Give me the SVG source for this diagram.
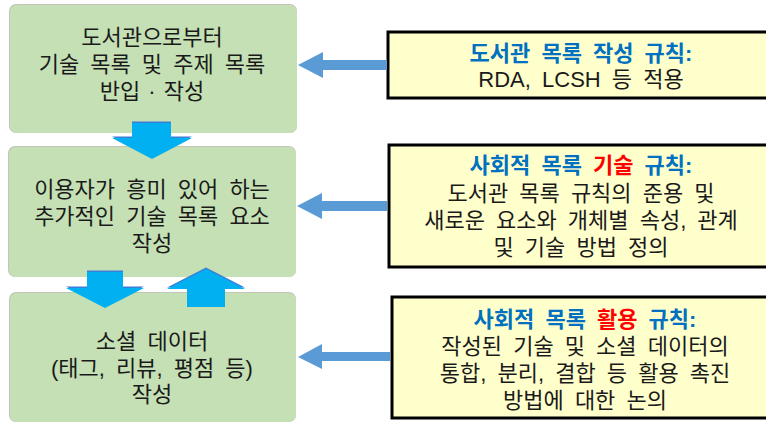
<svg xmlns="http://www.w3.org/2000/svg" width="766" height="424" viewBox="0 0 766 424">
<style>
.g{fill:#C5E0B4}
.gs{fill:#A8AE9C;opacity:.7}
.y{fill:#FFFFCC;stroke:#000;stroke-width:3}
text{font-family:"Liberation Sans","Noto Sans CJK KR",sans-serif;font-size:22px;fill:#1a1a1a;text-anchor:middle;word-spacing:5px}
.t{font-weight:bold;fill:#0070C0}
.r{fill:#FF0000}
.fa{fill:#00B0F0}
.fs{fill:#3A7FD6}
.la{fill:#5B9BD5}
</style>
<rect width="766" height="424" fill="#fff"/>
<g id="node-library">
<rect class="gs" x="9" y="4" width="288" height="129" rx="7"/>
<rect class="g" x="10" y="5" width="287" height="128" rx="7"/>
<text x="152" y="45">도서관으로부터<tspan x="152" dy="27">기술 목록 및 주제 목록</tspan><tspan x="152" dy="27" style="word-spacing:2px">반입 · 작성</tspan></text>
</g>
<g id="node-user">
<rect class="gs" x="8" y="146" width="288" height="131" rx="7"/>
<rect class="g" x="9" y="147" width="287" height="130" rx="7"/>
<text x="152" y="197">이용자가 흥미 있어 하는<tspan x="152" dy="27">추가적인 기술 목록 요소</tspan><tspan x="152" dy="27">작성</tspan></text>
</g>
<g id="node-social">
<rect class="gs" x="9" y="292" width="287" height="130" rx="7"/>
<rect class="g" x="10" y="293" width="286" height="129" rx="7"/>
<text x="152" y="349">소셜 데이터<tspan x="152" dy="27">(태그, 리뷰, 평점 등)</tspan><tspan x="152" dy="26">작성</tspan></text>
</g>
<g id="rule-library">
<rect class="y" x="388" y="32" width="386" height="66"/>
<text x="581" y="61"><tspan class="t">도서관 목록 작성 규칙:</tspan><tspan x="581" dy="26">RDA, LCSH 등 적용</tspan></text>
</g>
<g id="rule-description">
<rect class="y" x="389" y="145" width="386" height="122"/>
<text x="581" y="173"><tspan class="t">사회적 목록 <tspan class="r">기술</tspan> 규칙:</tspan><tspan x="581" dy="28">도서관 목록 규칙의 준용 및</tspan><tspan x="581" dy="27">새로운 요소와 개체별 속성, 관계</tspan><tspan x="581" dy="27">및 기술 방법 정의</tspan></text>
</g>
<g id="rule-use">
<rect class="y" x="392" y="297" width="386" height="121"/>
<text x="585" y="327"><tspan class="t">사회적 목록 <tspan class="r">활용</tspan> 규칙:</tspan><tspan x="585" dy="27">작성된 기술 및 소셜 데이터의</tspan><tspan x="585" dy="27">통합, 분리, 결합 등 활용 촉진</tspan><tspan x="585" dy="27">방법에 대한 논의</tspan></text>
</g>
<g id="connectors">
<polygon class="fs" points="132,121.5 171,121.5 171,136.5 192,136.5 152,157.5 112,136.5 132,136.5"/>
<polygon class="fa" points="132,123 171,123 171,138 192,138 152,159 112,138 132,138"/>
<polygon class="fs" points="87,270.5 123,270.5 123,286.5 144,286.5 105,306.5 66,286.5 87,286.5"/>
<polygon class="fa" points="87,272 123,272 123,288 144,288 105,308 66,288 87,288"/>
<polygon class="fs" points="206,267.5 245,287.5 225,287.5 225,305.5 187,305.5 187,287.5 167,287.5"/>
<polygon class="fa" points="206,269 245,289 225,289 225,307 187,307 187,289 167,289"/>
<polygon class="la" points="298,65 323,52 323,60 387,60 387,70 323,70 323,78"/>
<polygon class="la" points="297,206 322,193 322,201 387,201 387,211 322,211 322,219"/>
<polygon class="la" points="298,357 322,344 322,352 390,352 390,361 322,361 322,369"/>
</g>
</svg>
